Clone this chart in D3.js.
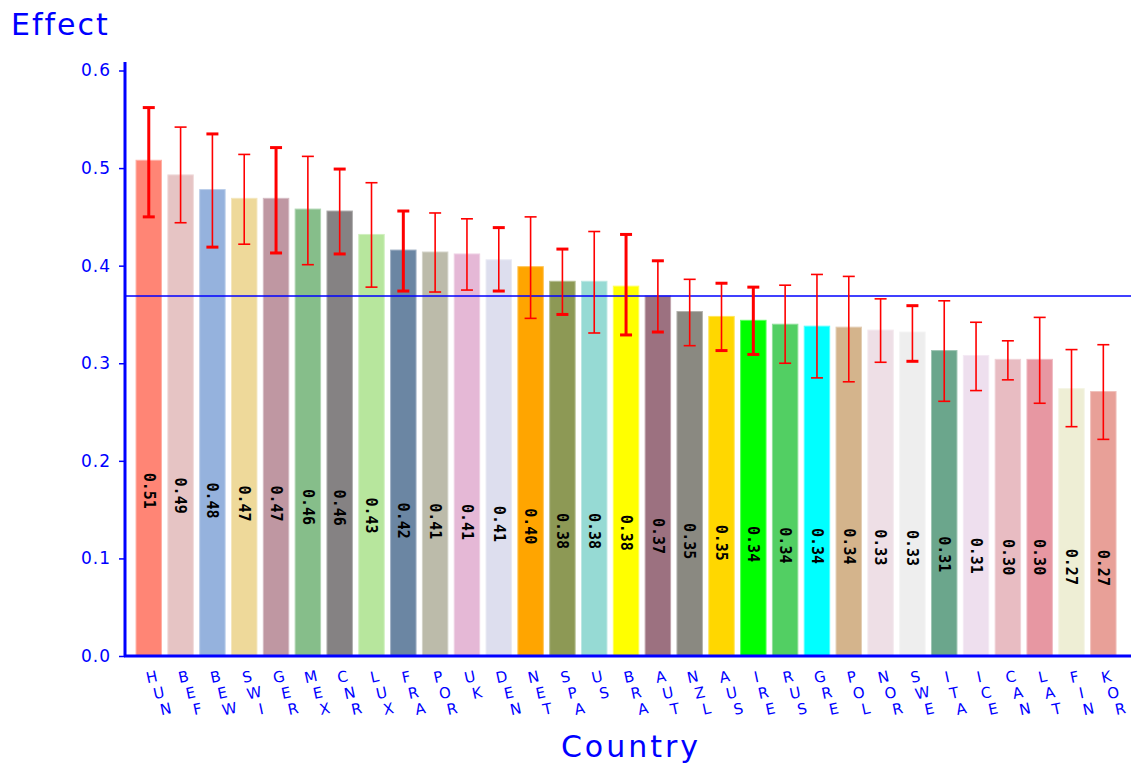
<!DOCTYPE html>
<html>
<head>
<meta charset="utf-8">
<script src="https://cdn.jsdelivr.net/npm/d3@7"></script>
<style>
  body { margin: 0; background: #fff; }
  svg { display: block; }
</style>
</head>
<body>
<div id="chart"></div>
<script>
var countries = ["HUN","BEF","BEW","SWI","GER","MEX","CNR","LUX","FRA","POR","UK","DEN","NET","SPA","US","BRA","AUT","NZL","AUS","IRE","RUS","GRE","POL","NOR","SWE","ITA","ICE","CAN","LAT","FIN","KOR"];
var effect  = [0.508,0.493,0.478,0.469,0.469,0.458,0.456,0.432,0.416,0.414,0.412,0.406,0.399,0.384,0.384,0.379,0.369,0.353,0.348,0.344,0.340,0.338,0.337,0.334,0.332,0.313,0.308,0.304,0.304,0.274,0.271];
var errHigh = [0.562,0.542,0.535,0.514,0.521,0.512,0.499,0.485,0.456,0.454,0.448,0.439,0.450,0.417,0.435,0.432,0.405,0.386,0.382,0.378,0.380,0.391,0.389,0.366,0.359,0.364,0.342,0.323,0.347,0.314,0.319];
var errLow  = [0.450,0.444,0.419,0.422,0.413,0.401,0.412,0.378,0.374,0.373,0.375,0.374,0.346,0.350,0.331,0.329,0.332,0.318,0.313,0.309,0.300,0.285,0.281,0.301,0.302,0.261,0.272,0.283,0.259,0.235,0.222];
var boldErr = ["HUN","GER","FRA","BRA","IRE"];
var boldCap = ["BEW","CNR","DEN","SPA","AUT","AUS","SWE"];
var yTicks  = [0, 0.1, 0.2, 0.3, 0.4, 0.5, 0.6];
var refLine = 0.369;
var colors  = ["#ff8575","#e6c4c4","#95b2dd","#eed99a","#bf97a2","#86be8a","#858283","#b7e69d","#6b86a3","#bcbbaa","#e5b8d6","#dddeee","#ffa500","#8d9955","#96dad4","#ffff00","#9c7180","#8a8981","#ffd700","#00ff00","#52cf63","#00ffff","#d4b48c","#eedfe6","#eeeeee","#6ba68c","#eedfee","#e8bcc2","#e797a2","#eeeed5","#e8a098"];

var w = 1131, h = 772;
var blue = "#0000ff";

var svg = d3.select("#chart").append("svg")
  .attr("width", w)
  .attr("height", h);

var y = d3.scaleLinear().domain([0, 0.6]).range([656, 70.5]);

var x = d3.scaleBand()
  .domain(countries)
  .range([126.5, 1125.6])
  .paddingInner(0.2)
  .paddingOuter(0.3);

var data = countries.map((c, i) => ({
  c: c, v: effect[i], hi: errHigh[i], lo: errLow[i], col: colors[i],
  bold: boldErr.includes(c), cap: boldCap.includes(c)
}));

var cx = d => x(d.c) + x.bandwidth() / 2;

// bars
svg.append("g").selectAll("rect")
  .data(data)
  .enter().append("rect")
  .attr("x", d => x(d.c))
  .attr("y", d => y(d.v))
  .attr("width", x.bandwidth())
  .attr("height", d => y(0) - y(d.v))
  .attr("fill", d => d.col)
  .attr("stroke", d => d3.interpolateRgb(d.col, "#fff")(0.35))
  .attr("stroke-width", 1);

// value labels, rotated
svg.append("g").selectAll("text")
  .data(data)
  .enter().append("text")
  .attr("transform", d => `translate(${cx(d)},${y(d.v / 3)})rotate(90)`)
  .attr("text-anchor", "middle")
  .attr("dy", "0.35em")
  .style("font-family", "'DejaVu Sans Mono', monospace")
  .style("font-size", "15px")
  .style("font-weight", "bold")
  .style("fill", "#000")
  .text(d => d3.format(".2f")(d.v));

// reference line
svg.append("line")
  .attr("x1", 125).attr("x2", w)
  .attr("y1", y(refLine)).attr("y2", y(refLine))
  .attr("stroke", blue)
  .attr("stroke-width", 1.5);

// error bars
var eb = svg.append("g").selectAll("g")
  .data(data)
  .enter().append("g")
  .attr("stroke", "#ff0000");

eb.append("line")
  .attr("stroke-width", d => d.bold ? 3 : 1.6)
  .attr("x1", cx).attr("x2", cx)
  .attr("y1", d => y(d.hi))
  .attr("y2", d => y(d.lo));

eb.selectAll("line.cap")
  .data(d => [d.hi, d.lo].map(v => ({ v: v, d: d })))
  .enter().append("line")
  .attr("class", "cap")
  .attr("stroke-width", e => (e.d.bold || e.d.cap) ? 3 : 1.6)
  .attr("x1", e => cx(e.d) - 6)
  .attr("x2", e => cx(e.d) + 6)
  .attr("y1", e => y(e.v))
  .attr("y2", e => y(e.v));

// y axis
var yAxis = svg.append("g")
  .attr("transform", "translate(125,0)")
  .call(d3.axisLeft(y).tickValues(yTicks).tickFormat(d3.format(".1f")).tickSize(6).tickPadding(8));

yAxis.select(".domain").remove();
yAxis.selectAll("line").attr("stroke", blue).attr("stroke-width", 1.5);
yAxis.selectAll("text")
  .attr("fill", blue)
  .style("font-family", "'DejaVu Sans', sans-serif")
  .style("font-size", "17px")
  .style("letter-spacing", "1px");

svg.append("line")
  .attr("x1", 125).attr("x2", 125)
  .attr("y1", 62).attr("y2", 657)
  .attr("stroke", blue).attr("stroke-width", 3);

// x axis line
svg.append("line")
  .attr("x1", 124).attr("x2", w)
  .attr("y1", 656).attr("y2", 656)
  .attr("stroke", blue).attr("stroke-width", 3);

// x labels: stacked, slanted letters
var xl = svg.append("g").selectAll("g")
  .data(data)
  .enter().append("g");

xl.selectAll("text")
  .data(d => d.c.split("").map((ch, i) => ({ ch: ch, i: i, cx: cx(d) })))
  .enter().append("text")
  .attr("transform", t => `translate(${t.cx + 4 + t.i * 7},${682 + t.i * 16})rotate(-12)`)
  .attr("text-anchor", "middle")
  .style("font-family", "'DejaVu Sans', sans-serif")
  .style("font-size", "15px")
  .attr("fill", blue)
  .text(t => t.ch);

// titles
svg.append("text")
  .attr("x", 11).attr("y", 35)
  .attr("fill", blue)
  .style("font-family", "'DejaVu Sans', sans-serif")
  .style("font-size", "30px")
  .style("letter-spacing", "2px")
  .text("Effect");

svg.append("text")
  .attr("x", 631).attr("y", 757)
  .attr("text-anchor", "middle")
  .attr("fill", blue)
  .style("font-family", "'DejaVu Sans', sans-serif")
  .style("font-size", "30px")
  .style("letter-spacing", "3px")
  .text("Country");
</script>
</body>
</html>
